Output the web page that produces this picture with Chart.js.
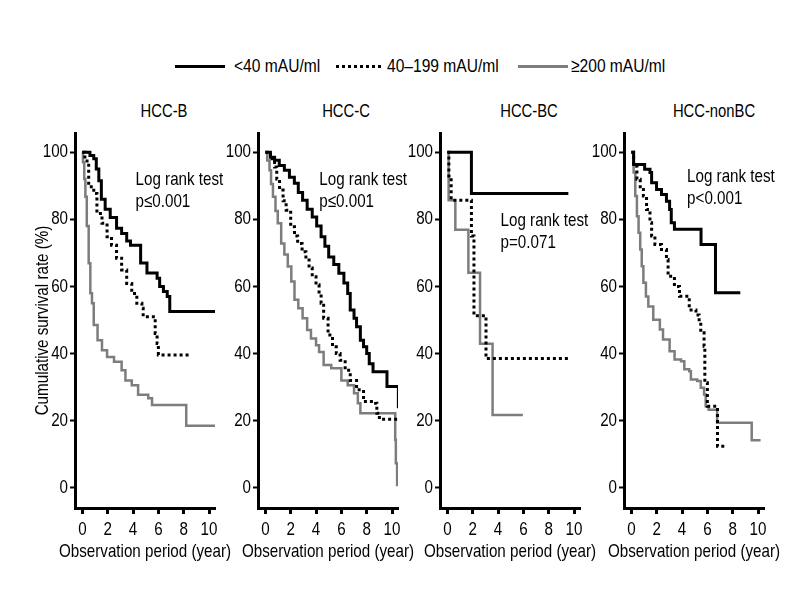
<!DOCTYPE html>
<html>
<head>
<meta charset="utf-8">
<script src="https://cdn.jsdelivr.net/npm/chart.js@4.4.1/dist/chart.umd.min.js"></script>
<style>
  body { margin: 0; background: #fff; width: 800px; height: 600px; position: relative; overflow: hidden;
         font-family: 'Liberation Sans', Arial, sans-serif; color: #000; }
  canvas { position: absolute; }
  .title { position: absolute; top: 100px; font-size: 18.5px; line-height: 22px; white-space: nowrap;
           transform-origin: 50% 50%; transform: translateX(-50%) scaleX(0.8); }
  .key { position: absolute; height: 3px; top: 65px; }
  .key-text { position: absolute; top: 55px; font-size: 19px; line-height: 22px; white-space: nowrap;
              transform-origin: 0 50%; transform: scaleX(0.82); }
</style>
</head>
<body>
<div class="key" style="left:175px;width:50px;background:#000"></div>
<div class="key-text" id="k0" style="left:234px"></div>
<div class="key" style="left:336px;width:48px;background:repeating-linear-gradient(to right,#000 0 3px,transparent 3px 6px)"></div>
<div class="key-text" id="k1" style="left:387px"></div>
<div class="key" style="left:518px;width:50px;background:#7d7d7d"></div>
<div class="key-text" id="k2" style="left:571px"></div>

<script>
// Kaplan-Meier curves, 4 panels x 3 AFP groups
const X_TICKS = [0, 2, 4, 6, 8, 10];
const Y_TICKS = [0, 20, 40, 60, 80, 100];
const SERIES_LABELS = ["<40 mAU/ml", "40–199 mAU/ml", "≥200 mAU/ml"];
const PANEL_TITLES = ["HCC-B", "HCC-C", "HCC-BC", "HCC-nonBC"];
const P_VALUES = ["p≤0.001", "p≤0.001", "p=0.071", "p<0.001"];
const X_TITLE = "Observation period (year)";
const Y_TITLE = "Cumulative survival rate (%)";

// [year, survival %] -- curve steps down to this value at this year
const B_LOW = [[0,100],[0.6,99],[0.9,98],[1.1,95],[1.3,91.5],[1.5,86],[1.8,83],[2.2,80.5],[2.7,77.3],[3.1,75.8],
  [3.5,73.5],[3.8,72.3],[4.6,67],[5.1,64],[5.9,62.4],[6.1,60],[6.4,58.5],[6.7,57],[6.9,52.5],[10.5,52.5]];
const B_MID = [[0,100],[0.2,98],[0.37,96.6],[0.5,89.7],[0.9,87.7],[1.15,81.7],[1.55,78.8],[1.95,74.8],[2.3,72.3],
  [2.7,68.4],[3.1,64.9],[3.5,60.9],[3.9,57.9],[4.3,55],[4.7,53.5],[4.8,51],[5.75,46],[5.9,43],[6.0,39.6],[8.6,39.6]];
const B_HIGH = [[0,100],[0.05,97],[0.15,92],[0.24,86.7],[0.35,78],[0.5,66.9],[0.63,58],[0.76,55],[0.9,48.5],
  [1.2,44],[1.55,41],[1.95,39],[2.5,37.6],[3.1,35],[3.4,32],[3.9,30.6],[4.4,27.7],[5.2,26.7],[5.5,24.7],
  [8.2,18.5],[10.5,18.5]];

const C_LOW = [[0,100],[0.4,98.5],[0.73,97.6],[1.1,96],[1.5,94.6],[1.9,92.5],[2.29,90.7],[2.6,88],[2.94,85.7],
  [3.3,83],[3.7,80.7],[4.05,78],[4.4,74.8],[4.7,72],[5.0,68.8],[5.4,66.5],[5.8,63.9],[6.2,61],[6.5,57.9],
  [6.7,53],[7.0,50.5],[7.2,48],[7.5,44],[7.75,42],[8.0,40],[8.2,37],[8.5,34.6],[9.6,30.2],[10.5,23.7]];
const C_MID = [[0,100],[0.4,98],[0.73,95.6],[0.9,92],[1.12,88.7],[1.4,85.5],[1.64,82.7],[2.0,77.8],[2.3,75],
  [2.55,72.8],[2.9,70.3],[3.2,67.9],[3.45,65.5],[3.7,62.9],[4.0,60.5],[4.24,57.9],[4.4,55],[4.6,50.5],
  [4.95,45.5],[5.3,42],[5.6,40],[5.9,38],[6.3,35],[6.7,32],[7.2,29.2],[7.75,25.7],[8.7,25.2],[8.8,22.2],
  [9.0,20.4],[10.6,20.4]];
const C_HIGH = [[0,100],[0.15,97.5],[0.33,94.6],[0.45,90.5],[0.6,86.7],[0.8,82.5],[0.98,78.8],[1.25,72.8],
  [1.5,69.5],[1.77,65.9],[2.05,61.5],[2.3,56],[2.6,53.5],[2.94,50.5],[3.3,47],[3.6,44.5],[4.0,42.5],
  [4.24,40.5],[4.6,36.6],[5.2,35.6],[6.0,32],[6.5,30.6],[7.0,28.2],[7.3,25.2],[7.5,22.2],[10.2,22.2],
  [10.25,14.3],[10.3,7.3],[10.4,0.5]];

const BC_LOW = [[0,100],[1.9,87.7],[9.55,87.7]];
const BC_MID = [[0,100],[0.12,92.9],[0.3,85.7],[1.9,75],[2.1,51.3],[3.05,38.5],[9.6,38.5]];
const BC_HIGH = [[0,100],[0.1,85.7],[0.63,76.9],[1.66,64.1],[2.58,42.9],[3.57,21.7],[5.96,21.7]];

const NBC_LOW = [[0,100],[0.18,96.3],[1.05,94.9],[1.47,93.9],[1.6,90.9],[1.99,88.9],[2.38,87.4],[2.77,85.4],
  [3.02,82.9],[3.15,79],[3.4,77],[5.5,72.5],[6.64,58.1],[8.6,58.1]];
const NBC_MID = [[0,100],[0.18,95.8],[0.44,91.9],[0.7,88.9],[0.95,86.9],[1.2,82.9],[1.47,79],[1.6,75],
  [1.86,72.5],[2.38,71],[2.77,68],[2.9,63],[3.4,60],[3.8,57.1],[4.57,53],[5.1,51.5],[5.35,49.5],[5.48,46.2],
  [5.74,42.2],[5.8,31.3],[6.0,24.3],[6.8,12.4],[7.57,12.4]];
const NBC_HIGH = [[0,100],[0.18,93.9],[0.31,86.9],[0.44,80.9],[0.57,76],[0.7,71],[0.82,66],[0.95,61.1],
  [1.15,57],[1.34,54],[1.73,50.1],[2.25,47.2],[2.5,44.2],[3.02,40.7],[3.41,38.2],[3.92,37.7],[4.18,35.3],
  [4.57,34.7],[4.7,32.3],[5.2,31.8],[5.48,29.8],[5.74,27.8],[5.87,24.3],[6.1,23.3],[6.77,19.4],[9.5,14.2],
  [10.2,14.2]];

const PANEL_DATA = [
  [B_LOW, B_MID, B_HIGH],
  [C_LOW, C_MID, C_HIGH],
  [BC_LOW, BC_MID, BC_HIGH],
  [NBC_LOW, NBC_MID, NBC_HIGH],
];

// layout: y-axis pixel position, title centre, note anchor (data coords)
const LAYOUT = [
  { axisX: 75,  titleX: 164, note: [4.2, 91.7] },
  { axisX: 258, titleX: 346, note: [4.26, 91.7] },
  { axisX: 440, titleX: 529, note: [4.2, 79.6] },
  { axisX: 624, titleX: 714, note: [4.4, 92.6] },
];

const FONT = "'Liberation Sans', Arial, sans-serif";
const SQUEEZE = 0.82;   // fake a condensed face
const GRAY = "#7d7d7d";
const SERIES_STYLE = [
  { borderColor: "#000", borderWidth: 3, borderDash: [] },
  { borderColor: "#000", borderWidth: 3, borderDash: [3, 3] },
  { borderColor: GRAY, borderWidth: 2.5, borderDash: [] },
];

SERIES_LABELS.forEach((t, i) => document.getElementById("k" + i).textContent = t);

function narrowText(ctx, text, x, y, align, rotate) {
  ctx.save();
  ctx.font = "18.5px " + FONT;
  ctx.fillStyle = "#000";
  ctx.textBaseline = "middle";
  ctx.translate(x, y);
  if (rotate) ctx.rotate(-Math.PI / 2);
  ctx.scale(SQUEEZE, 1);
  const w = ctx.measureText(text).width;
  const dx = align === "center" ? -w / 2 : align === "right" ? -w : 0;
  ctx.textAlign = "left";
  ctx.fillText(text, dx, 0);
  ctx.restore();
}

// tick labels, axis titles and the log-rank note, in the narrow face
const textPlugin = {
  id: "panelText",
  afterDraw(chart, args, opts) {
    const { ctx, chartArea: a, scales } = chart;
    scales.x.ticks.forEach(t => narrowText(ctx, String(t.value), scales.x.getPixelForValue(t.value), a.bottom + 22, "center"));
    scales.y.ticks.forEach(t => narrowText(ctx, String(t.value), a.left - 7, scales.y.getPixelForValue(t.value), "right"));
    const x = scales.x.getPixelForValue(opts.at[0]);
    const y = scales.y.getPixelForValue(opts.at[1]);
    narrowText(ctx, "Log rank test", x, y, "left");
    narrowText(ctx, opts.p, x, y + 22, "left");
    narrowText(ctx, X_TITLE, (a.left + a.right) / 2, a.bottom + 44, "center");
    if (opts.yTitle) narrowText(ctx, Y_TITLE, a.left - 32, (a.top + a.bottom) / 2, "center", true);
  }
};

Chart.defaults.color = "#000";

const TOP = 125, HEIGHT = 442, YW = 45, PLOT_W = 140, PAD_R = 20;

LAYOUT.forEach((lay, p) => {
  const title = document.createElement("div");
  title.className = "title";
  title.style.left = lay.titleX + "px";
  title.textContent = PANEL_TITLES[p];
  document.body.appendChild(title);

  const cv = document.createElement("canvas");
  cv.width = YW + PLOT_W + PAD_R;
  cv.height = HEIGHT;
  cv.style.left = (lay.axisX - YW) + "px";
  cv.style.top = TOP + "px";
  document.body.appendChild(cv);

  new Chart(cv.getContext("2d"), {
    type: "line",
    data: {
      datasets: PANEL_DATA[p].map((pts, i) => ({
        label: SERIES_LABELS[i],
        data: pts.map(([x, y]) => ({ x, y })),
        stepped: "before",
        pointRadius: 0,
        fill: false,
        borderCapStyle: "butt",
        ...SERIES_STYLE[i],
      })),
    },
    options: {
      responsive: false,
      animation: false,
      devicePixelRatio: 1,
      layout: { padding: { top: 8, right: PAD_R, left: 0, bottom: 0 } },
      plugins: {
        legend: { display: false },
        tooltip: { enabled: false },
        panelText: { at: lay.note, p: P_VALUES[p], yTitle: p === 0 },
      },
      scales: {
        x: {
          type: "linear",
          min: -0.58,
          max: 10.47,
          afterBuildTicks: s => { s.ticks = X_TICKS.map(v => ({ value: v })); },
          afterFit: s => { s.height = HEIGHT - 8 - 375; },
          ticks: { display: false },
          grid: { drawOnChartArea: false, drawTicks: true, tickLength: 6, tickWidth: 3, tickColor: "#000" },
          border: { display: true, color: "#000", width: 3 },
        },
        y: {
          min: -6,
          max: 105.7,
          afterBuildTicks: s => { s.ticks = Y_TICKS.map(v => ({ value: v })); },
          afterFit: s => { s.width = YW; },
          ticks: { display: false },
          grid: { drawOnChartArea: false, drawTicks: true, tickLength: 5, tickWidth: 2, tickColor: "#000" },
          border: { display: true, color: "#000", width: 3 },
        },
      },
    },
    plugins: [textPlugin],
  });
});
</script>
</body>
</html>
